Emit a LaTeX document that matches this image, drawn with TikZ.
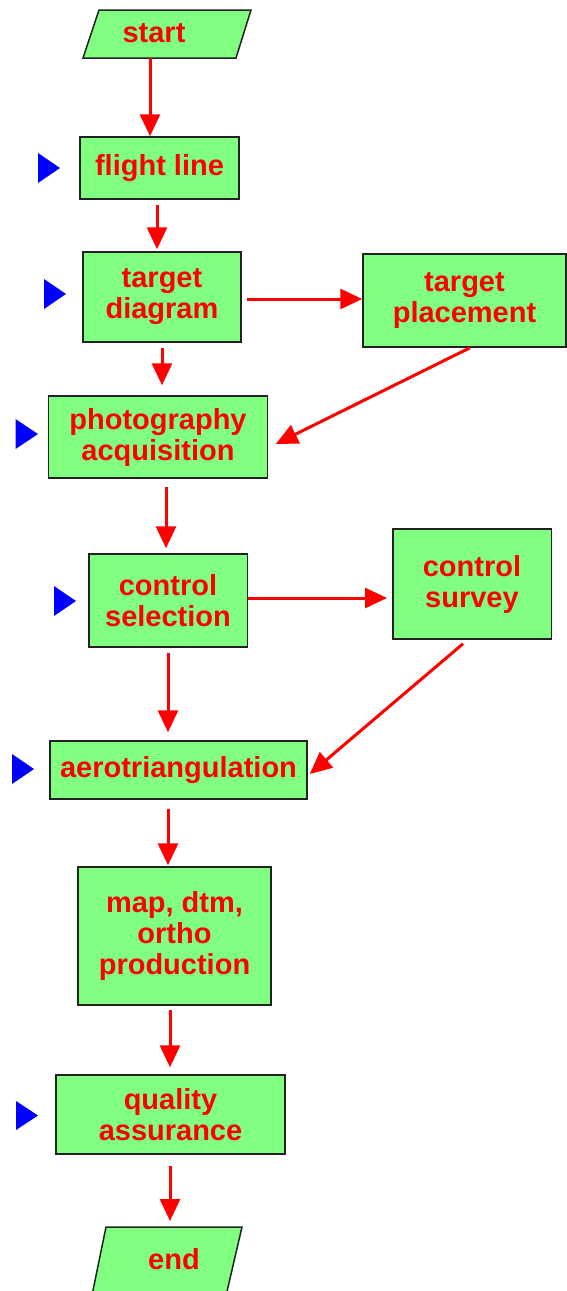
\documentclass[tikz,border=0pt]{standalone}
\usepackage{fontspec}
\setmainfont{Liberation Sans}
\usetikzlibrary{arrows.meta}
\definecolor{boxgreen}{HTML}{80FF80}
\definecolor{edgegray}{HTML}{222222}
\begin{document}
\begin{tikzpicture}[x=1pt,y=-1pt,
  box/.style={draw=edgegray,line width=1.5pt,fill=boxgreen,inner sep=0pt,
    text=red,font=\fontsize{29}{31}\selectfont\bfseries,align=center},
  lbl/.style={text=red,font=\fontsize{29}{31}\selectfont\bfseries,inner sep=0pt},
  slant/.style={draw=edgegray,line width=1.5pt,fill=boxgreen},
  arr/.style={draw=red,line width=3pt,-{Triangle[length=22pt,width=20pt]}},
  cue/.style={fill=blue}
]
\useasboundingbox (0,0) rectangle (567,1291);

% start / end parallelograms
\path[slant] (99,10) -- (251,10) -- (236,58) -- (83,58) -- cycle;
\node[lbl] (start) at (154,33) {start};
\coordinate (startb) at (150,58);
\path[slant] (106,1227) -- (242,1227) -- (225,1300) -- (91,1300) -- cycle;
\node[lbl] (end) at (174,1259.5) {end};
\coordinate (endtop) at (170,1221);

% boxes
\node[box,minimum width=159pt,minimum height=62pt] (flight) at (159.5,168) {flight line};
\node[box,minimum width=158pt,minimum height=90pt] (target) at (162,297) {target\\diagram};
\node[box,minimum width=203pt,minimum height=93pt] (place) at (464.5,300.5) {target\\placement};
\node[box,minimum width=219pt,minimum height=82pt] (photo) at (158,437) {photography\\acquisition};
\node[box,minimum width=158.5pt,minimum height=93pt] (csel) at (168,600.5) {control\\selection};
\node[box,minimum width=158.5pt,minimum height=110pt] (csurv) at (472,584) {control\\survey};
\node[box,minimum width=257pt,minimum height=58pt] (aero) at (178.5,770) {aerotriangulation};
\node[box,minimum width=193pt,minimum height=138pt] (map) at (174.5,936) {map, dtm,\\ortho\\production};
\node[box,minimum width=229pt,minimum height=79pt] (qa) at (170.5,1114.5) {quality\\assurance};

% blue cues
\fill[cue] (38,153) -- (60,168) -- (38,183) -- cycle;
\fill[cue] (44,279) -- (66,294) -- (44,309) -- cycle;
\fill[cue] (15.5,419) -- (38,434) -- (15.5,449) -- cycle;
\fill[cue] (54,586) -- (76,601) -- (54,616) -- cycle;
\fill[cue] (12,754) -- (34,769) -- (12,784) -- cycle;
\fill[cue] (16,1101) -- (38,1115.5) -- (16,1130) -- cycle;

% connectors
\draw[arr] (startb) -- ([xshift=-9.5pt]flight.north);
\draw[arr] ([xshift=-2.5pt,yshift=-5pt]flight.south) -- ([xshift=-5pt,yshift=2pt]target.north);
\draw[arr] ([xshift=5pt,yshift=-2pt]target.east) -- ([yshift=1.5pt]place.west);
\draw[arr] ([yshift=-5pt]target.south) -- ([xshift=4pt,yshift=10pt]photo.north);
\draw[arr] ([xshift=5.5pt]place.south) -- ([xshift=7.5pt,yshift=-7pt]photo.east);
\draw[arr] ([xshift=8pt,yshift=-8pt]photo.south) -- ([xshift=-2pt,yshift=5pt]csel.north);
\draw[arr] ([yshift=2.5pt]csel.east) -- ([xshift=-5pt,yshift=-14pt]csurv.west);
\draw[arr] ([yshift=-5pt]csel.south) -- ([xshift=-10.5pt,yshift=8pt]aero.north);
\draw[arr] ([xshift=-9pt,yshift=-4pt]csurv.south) -- ([xshift=2pt,yshift=-4pt]aero.east);
\draw[arr] ([xshift=-10.5pt,yshift=-9pt]aero.south) -- ([xshift=-6.5pt,yshift=1pt]map.north);
\draw[arr] ([xshift=-4.5pt,yshift=-4pt]map.south) -- ([xshift=-0.5pt,yshift=7pt]qa.north);
\draw[arr] ([xshift=-0.5pt,yshift=-11pt]qa.south) -- (endtop);
\end{tikzpicture}
\end{document}
